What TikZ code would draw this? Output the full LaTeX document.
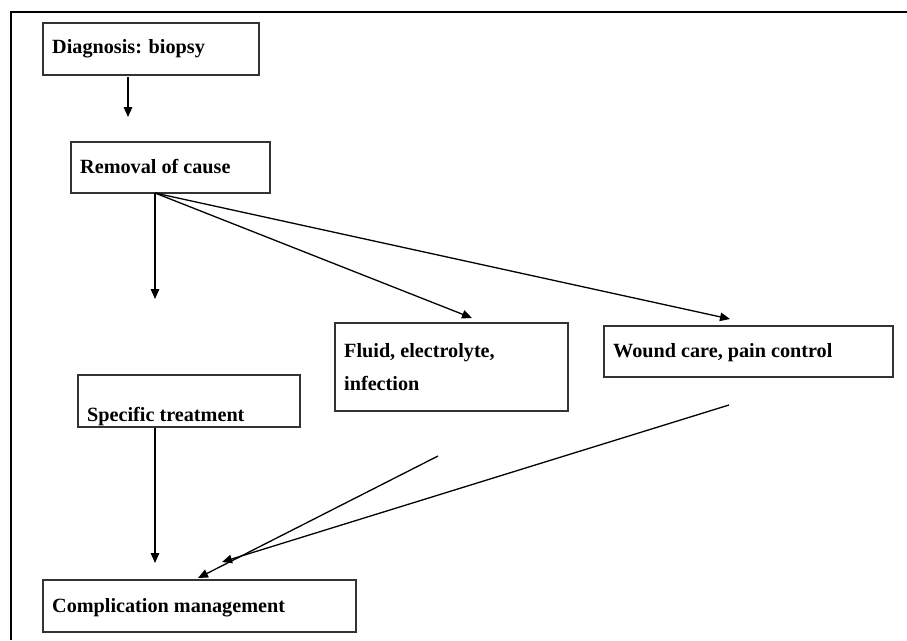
\documentclass[tikz,border=0pt]{standalone}
\usepackage{fontspec}
\setmainfont{Liberation Serif}
\usetikzlibrary{arrows.meta}
\begin{document}
\begin{tikzpicture}[x=1pt,y=-1pt,
  boxstyle/.style={draw=black!80,line width=1.5pt,inner sep=0pt,anchor=north west},
  lbl/.style={anchor=base west,inner sep=0pt,font=\fontsize{20.2}{24}\selectfont\bfseries},
  arr/.style={line width=1.3pt,-{Triangle[length=10pt,width=8.5pt]}}]
\useasboundingbox (0,0) rectangle (907,640);
\fill[white] (0,0) rectangle (907,640);
% frame
\draw[line width=2.6pt] (10,12) -- (907,12);
\draw[line width=2.6pt] (11,11) -- (11,640);
% boxes
\node[boxstyle,minimum width=216pt,minimum height=52pt] (diag) at (42,22) {};
\node[boxstyle,minimum width=199pt,minimum height=51pt] (rem) at (70,141) {};
\node[boxstyle,minimum width=233pt,minimum height=88pt] (fluid) at (334,322) {};
\node[boxstyle,minimum width=289pt,minimum height=51pt] (wound) at (603,325) {};
\node[boxstyle,minimum width=222pt,minimum height=52pt] (spec) at (77,374) {};
\node[boxstyle,minimum width=313pt,minimum height=52pt] (comp) at (42,579) {};
% labels
\node[lbl] (tdiag) at (52,53) {Diagnosis: biopsy};
\node[lbl] (trem) at (80,173) {Removal of cause};
\node[lbl] (tfluid1) at (344,357) {Fluid, electrolyte,};
\node[lbl] (tfluid2) at (344,390) {infection};
\node[lbl] (twound) at (613,357) {Wound care, pain control};
\node[lbl] (tspec) at (87,421) {Specific treatment};
\node[lbl] (tcomp) at (52,612) {Complication management};
% coordinates
\coordinate (d1) at (128,77);
\coordinate (d2) at (128,117);
\coordinate (r0) at (155,193);
\coordinate (r1) at (155,299);
\coordinate (r2) at (472,318);
\coordinate (r3) at (730,319);
\coordinate (s0) at (155,428);
\coordinate (s1) at (155,563);
\coordinate (f0) at (438,456);
\coordinate (f1) at (198,578);
\coordinate (w0) at (729,405);
\coordinate (w1) at (222,562);
% connectors
\draw[arr] (d1) -- (d2);
\draw[arr] (r0) -- (r1);
\draw[arr] (r0) -- (r2);
\draw[arr] (r0) -- (r3);
\draw[arr] (s0) -- (s1);
\draw[arr] (f0) -- (f1);
\draw[arr] (w0) -- (w1);
\end{tikzpicture}
\end{document}
